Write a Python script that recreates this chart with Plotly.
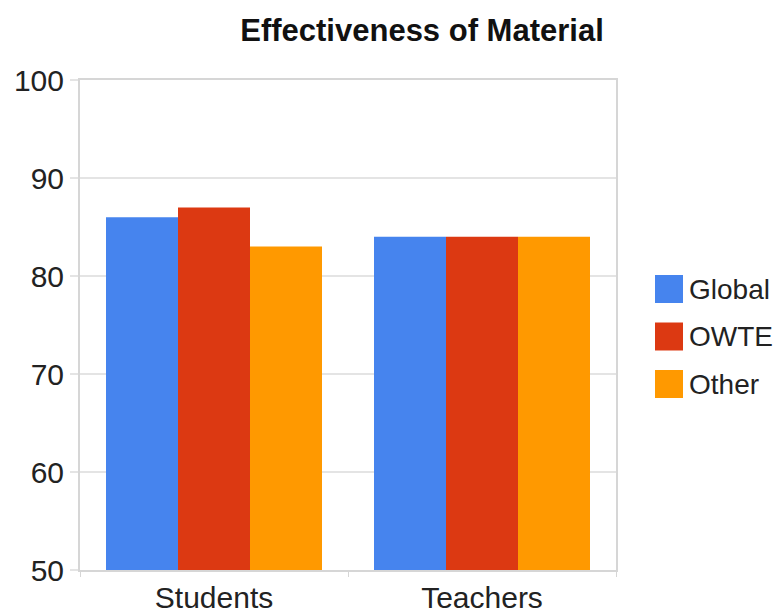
import plotly.graph_objects as go

# Survey results: effectiveness of material by audience
categories = ["Students", "Teachers"]
series_names = ["Global", "OWTE", "Other"]
global_vals = [86, 84]
owte_vals = [87, 84]
other_vals = [83, 84]
series_colors = ["#4684ee", "#dc3912", "#ff9900"]
y_ticks = [50, 60, 70, 80, 90, 100]

FONT = "Arial, Liberation Sans, sans-serif"

fig = go.Figure()
for name, vals, color in zip(series_names, [global_vals, owte_vals, other_vals], series_colors):
    fig.add_trace(go.Bar(
        x=categories, y=vals, name=name,
        marker=dict(color=color, line=dict(width=0)),
        showlegend=False,
    ))

# Legend built from large square swatches plus labels
shapes = []
annotations = []
for i, (name, color) in enumerate(zip(series_names, series_colors)):
    yc = 1 - (289 + 47.5 * i - 80) / 490.0
    shapes.append(dict(
        type="rect", xref="paper", yref="paper",
        xsizemode="pixel", ysizemode="pixel",
        xanchor=(655 - 80) / 536.0, yanchor=yc,
        x0=0, x1=28, y0=-14, y1=14,
        fillcolor=color, line=dict(width=0),
    ))
    annotations.append(dict(
        text=name, xref="paper", yref="paper",
        x=(687 - 80) / 536.0, y=yc, xanchor="left", yanchor="middle",
        showarrow=False, font=dict(family=FONT, size=28, color="#222222"),
    ))

fig.update_layout(
    width=775, height=610,
    margin=dict(l=80, r=159, t=80, b=40),
    paper_bgcolor="white", plot_bgcolor="white",
    barmode="group", bargap=0.194, bargroupgap=0,
    title=dict(
        text="<b>Effectiveness of Material</b>",
        x=422 / 775, xref="container", xanchor="center",
        y=1 - 30 / 610, yref="container", yanchor="middle",
        font=dict(family=FONT, size=31, color="#111111"),
    ),
    shapes=shapes,
    annotations=annotations,
    xaxis=dict(
        automargin=False,
        showgrid=False, showline=True, mirror=True,
        linecolor="#d6d6d6", linewidth=2,
        ticks="outside", tickson="boundaries", ticklen=5, tickcolor="#d6d6d6",
        tickfont=dict(family=FONT, size=30, color="#222222"),
    ),
    yaxis=dict(
        automargin=False,
        range=[50, 100], tickvals=y_ticks,
        showgrid=True, gridcolor="#e4e4e4", gridwidth=2,
        showline=True, mirror=True, linecolor="#d6d6d6", linewidth=2,
        ticks="outside", ticklen=8, tickcolor="#e4e4e4", tickwidth=2,
        zeroline=False,
        tickfont=dict(family=FONT, size=30, color="#222222"),
    ),
)

fig.write_html("out.html")
